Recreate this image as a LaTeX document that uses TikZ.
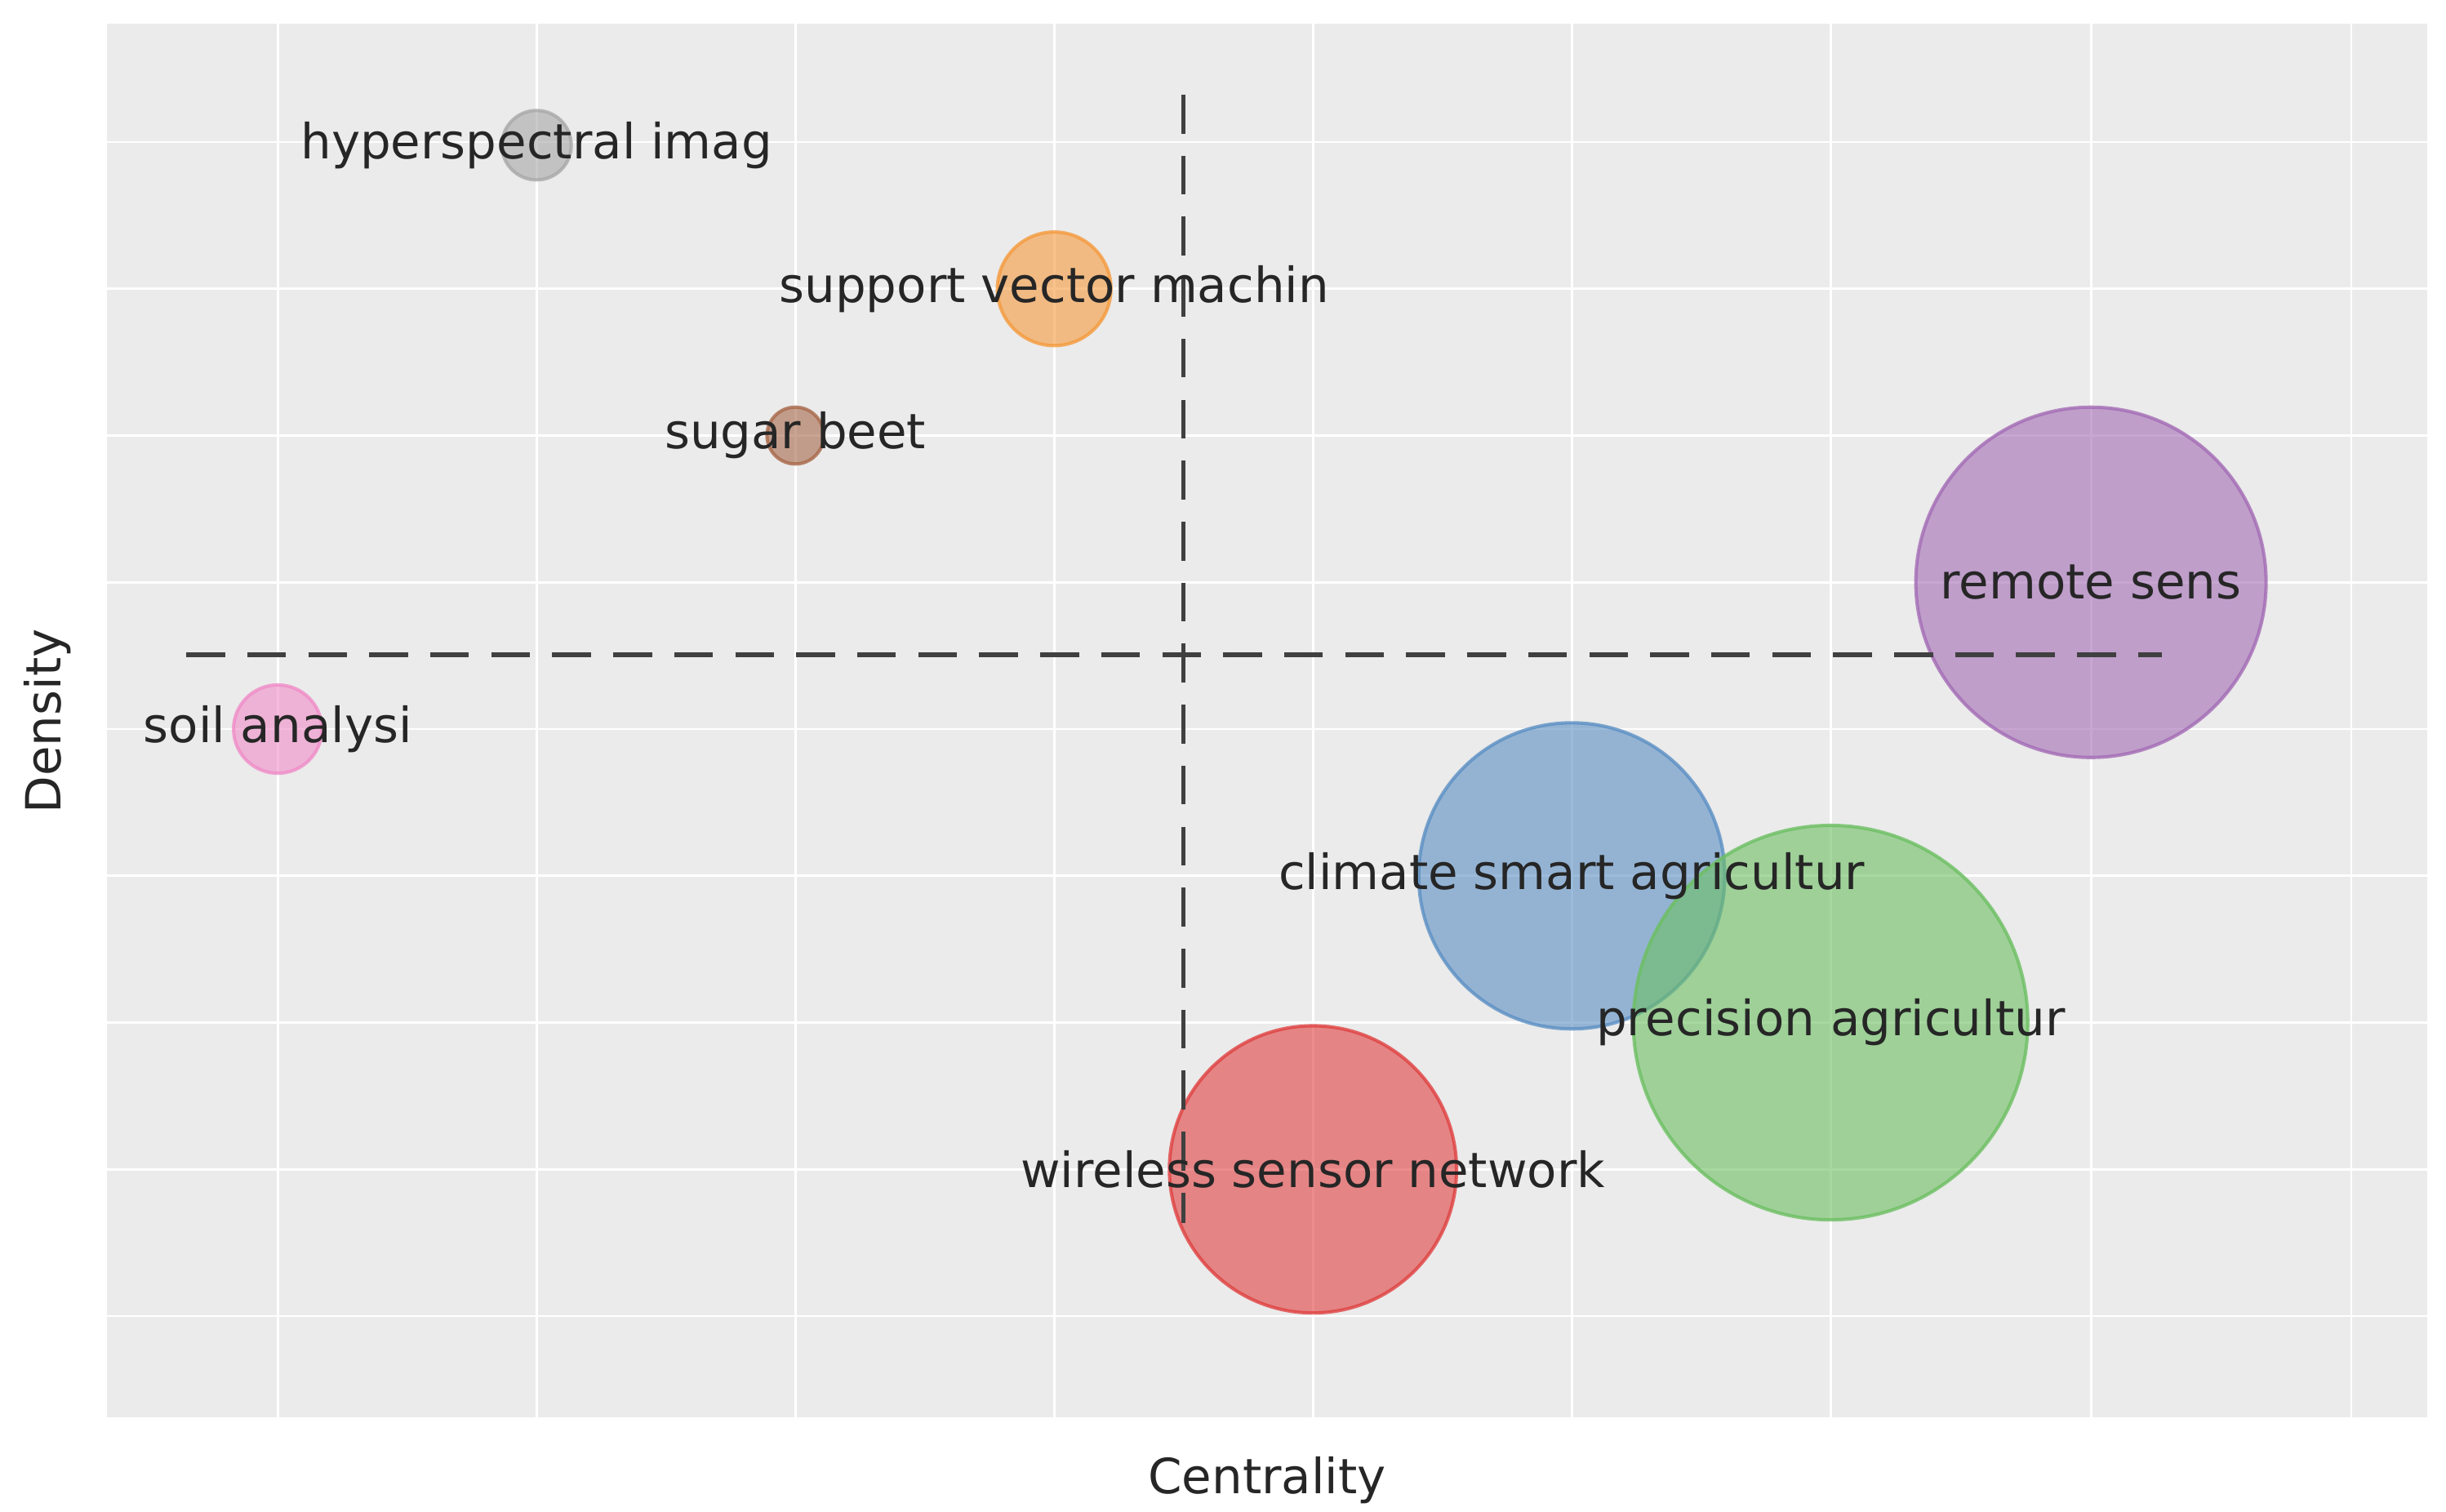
\documentclass[tikz,border=0pt]{standalone}
\usepackage{fontspec}
\setmainfont{DejaVu Sans}
\begin{document}
\begin{tikzpicture}[x=0.02cm,y=-0.02cm,
  bub/.style args={#1}{circle,draw=#1,line width=1.2pt,fill=#1,fill opacity=0.6,draw opacity=0.8,inner sep=0pt},
  lab/.style={font=\fontsize{17.5}{20}\selectfont,text=black!85,inner sep=0pt},
  gridl/.style={white,line width=0.8pt},
  qline/.style={black!75,line width=1.6pt,dash pattern=on 14pt off 8pt}]
\useasboundingbox (0,0) rectangle (1550,958);
\fill[white] (0,0) rectangle (1550,958);
\fill[black!8] (68,15) rectangle (1538,898);
\foreach \x in {176,340,504,668,832,996,1160,1325,1490} \draw[gridl] (\x,15) -- (\x,898);
\foreach \y in {90,183,276,369,462,555,648,741,834} \draw[gridl] (68,\y) -- (1538,\y);
\definecolor{cg}{HTML}{A8A8A8}
\definecolor{co}{HTML}{F59A3C}
\definecolor{cb}{HTML}{A8684A}
\definecolor{cp}{HTML}{A36BB5}
\definecolor{cpk}{HTML}{F08CC8}
\definecolor{cbl}{HTML}{5B8FC4}
\definecolor{cgr}{HTML}{6CBF62}
\definecolor{cr}{HTML}{E04040}
\node[bub=cg,minimum size=0.88cm] (hy) at (340,92) {};
\node[bub=co,minimum size=1.44cm] (sv) at (668,183) {};
\node[bub=cb,minimum size=0.72cm] (sb) at (504,276) {};
\node[bub=cp,minimum size=4.44cm] (rs) at (1325,369) {};
\node[bub=cpk,minimum size=1.12cm] (sa) at (176,462) {};
\node[bub=cbl,minimum size=3.88cm] (cs) at (996,555) {};
\node[bub=cgr,minimum size=5.0cm] (pa) at (1160,648) {};
\node[bub=cr,minimum size=3.64cm] (ws) at (832,741) {};
\coordinate (v1) at (750,60); \coordinate (v2) at (750,775);
\coordinate (h1) at (118,415); \coordinate (h2) at (1370,415);
\draw[qline] (v1) -- (v2);
\draw[qline] (h1) -- (h2);
\node[lab] at (hy) {hyperspectral imag};
\node[lab] at (sv) {support vector machin};
\node[lab] at (sb) {sugar beet};
\node[lab] at (rs) {remote sens};
\node[lab] at (sa) {soil analysi};
\node[lab] at (cs) {climate smart agricultur};
\node[lab] at (pa) {precision agricultur};
\node[lab] at (ws) {wireless sensor network};
\node[lab,rotate=90] (dy) at (30,457) {Density};
\node[lab] (cx) at (803,938) {Centrality};
\end{tikzpicture}
\end{document}
